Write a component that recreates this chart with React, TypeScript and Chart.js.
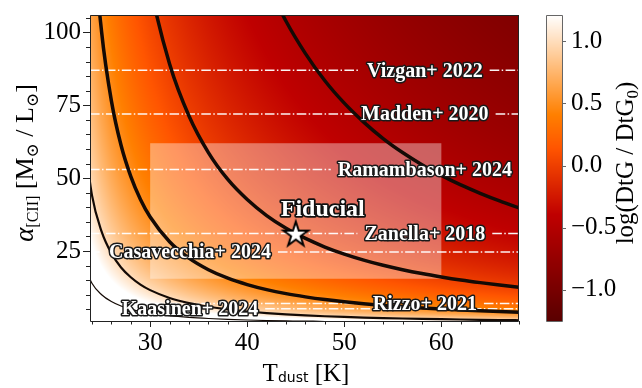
import { useEffect, useRef } from 'react';
import { Chart, registerables } from 'chart.js';

Chart.register(...registerables);

// ---------------------------------------------------------------- data
// Dust temperature grid (K)
const tdust = [23, 24, 25, 26, 27, 28, 29, 30, 32, 34, 36, 38, 40, 42, 44, 46, 48, 50, 52, 54, 56, 58, 60, 62, 64, 66, 68];
// log(DtG / DtG0) at the fiducial alpha_[CII], one value per dust temperature
const logDtgAtFiducialAlpha = [
  1.352, 1.154, 1.009, 0.893, 0.796, 0.713, 0.639, 0.573, 0.459, 0.362, 0.278, 0.204, 0.139, 0.079,
  0.025, -0.024, -0.070, -0.112, -0.151, -0.188, -0.222, -0.254, -0.284, -0.313, -0.340, -0.366, -0.391,
];
const fiducialTdust = 45;
const fiducialAlpha = 31;
const contourLevels = [-0.5, 0, 0.5, 1.0, 1.5];

// literature conversion factors (Msun / Lsun)
const refNames = ['Vizgan+ 2022', 'Madden+ 2020', 'Ramambason+ 2024', 'Zanella+ 2018', 'Casavecchia+ 2024', 'Rizzo+ 2021', 'Kaasinen+ 2024'];
const refAlpha = [87, 72, 53, 31, 24.7, 7.0, 5.2];

// explored parameter box
const boxTdust = [30, 60];
const boxAlpha = [15.5, 62];

const xTicks = [30, 40, 50, 60];
const yTicks = [25, 50, 75, 100];
const cbTicks = [-1.0, -0.5, 0.0, 0.5, 1.0];

// ---------------------------------------------------------------- layout / style
const W = 642;
const H = 388;
const AREA_TOP = 4;
const AREA_LEFT = 90;
const AREA_RIGHT = 519;
const AREA_BOTTOM = 321;
const X_RANGE = [23.8, 68];
const Y_RANGE = [1, 106];
const CB_RANGE = [-1.25, 1.21];
const CMAP_LO = -2.0;
const CMAP_HI = 1.21;
const CB_X0 = 546;
const CB_X1 = 562;
const LABEL_T = [58.3, 58.3, 58.3, 58.3, 34.1, 58.3, 34.1];
const CONTOUR_WIDTHS = [3.5, 3.5, 3.5, 2.2, 1.2];
const SERIF = "'Liberation Serif', 'Times New Roman', 'DejaVu Serif', serif";
const SANS = "'DejaVu Sans', sans-serif";

function heatRGB(v: number): [number, number, number] {
  let s = (v - CMAP_LO) / (CMAP_HI - CMAP_LO);
  s = Math.min(1, Math.max(0, s));
  const r = Math.min(1, 1.5 * s);
  const g = Math.min(1, Math.max(0, 2 * s - 1));
  const b = Math.min(1, Math.max(0, 4 * s - 3));
  return [r * 255, g * 255, b * 255];
}

function logDtgAt(t: number): number {
  const n = tdust.length;
  if (t <= tdust[0]) return logDtgAtFiducialAlpha[0];
  if (t >= tdust[n - 1]) return logDtgAtFiducialAlpha[n - 1];
  let i = 0;
  while (tdust[i + 1] < t) i++;
  const f = (t - tdust[i]) / (tdust[i + 1] - tdust[i]);
  return logDtgAtFiducialAlpha[i] * (1 - f) + logDtgAtFiducialAlpha[i + 1] * f;
}

function makeStar(): HTMLCanvasElement {
  const c = document.createElement('canvas');
  c.width = 34;
  c.height = 34;
  const g = c.getContext('2d')!;
  const R = 13;
  const r = R * 0.381966;
  g.beginPath();
  for (let k = 0; k < 10; k++) {
    const rad = k % 2 === 0 ? R : r;
    const ang = -Math.PI / 2 + (k * Math.PI) / 5;
    const px = 17 + rad * Math.cos(ang);
    const py = 18 + rad * Math.sin(ang);
    if (k === 0) g.moveTo(px, py);
    else g.lineTo(px, py);
  }
  g.closePath();
  g.fillStyle = '#ffffff';
  g.fill();
  g.lineWidth = 2;
  g.lineJoin = 'miter';
  g.strokeStyle = '#000000';
  g.stroke();
  return c;
}

type Part = { text: string; font: string; dy: number };

function drawParts(ctx: CanvasRenderingContext2D, parts: Part[], x: number, y: number, rotate: boolean) {
  ctx.save();
  ctx.translate(x, y);
  if (rotate) ctx.rotate(-Math.PI / 2);
  const widths = parts.map((p) => {
    ctx.font = p.font;
    return ctx.measureText(p.text).width;
  });
  const total = widths.reduce((a, b) => a + b, 0);
  let cx = -total / 2;
  ctx.textAlign = 'left';
  ctx.textBaseline = 'alphabetic';
  ctx.fillStyle = '#000';
  parts.forEach((p, i) => {
    ctx.font = p.font;
    ctx.fillText(p.text, cx, p.dy);
    cx += widths[i];
  });
  ctx.restore();
}

const REF_FONT = `bold 20px ${SERIF}`;

const heatmapPlugin = {
  id: 'heatmap',
  beforeDatasetsDraw(chart: any) {
    const { ctx, chartArea: a, scales } = chart;
    const xs = scales.x;
    const ys = scales.y;
    const w = Math.round(a.right - a.left);
    const h = Math.round(a.bottom - a.top);
    const off = document.createElement('canvas');
    off.width = w;
    off.height = h;
    const octx = off.getContext('2d')!;
    const img = octx.createImageData(w, h);
    const col = new Float64Array(w);
    for (let i = 0; i < w; i++) col[i] = logDtgAt(xs.getValueForPixel(a.left + i + 0.5));
    for (let j = 0; j < h; j++) {
      const la = Math.log10(ys.getValueForPixel(a.top + j + 0.5) / fiducialAlpha);
      for (let i = 0; i < w; i++) {
        const [r, g, b] = heatRGB(col[i] - la);
        const k = (j * w + i) * 4;
        img.data[k] = r;
        img.data[k + 1] = g;
        img.data[k + 2] = b;
        img.data[k + 3] = 255;
      }
    }
    octx.putImageData(img, 0, 0);
    ctx.save();
    ctx.drawImage(off, a.left, a.top);

    // translucent box over the explored range
    const bx0 = xs.getPixelForValue(boxTdust[0]);
    const bx1 = xs.getPixelForValue(boxTdust[1]);
    const by0 = ys.getPixelForValue(boxAlpha[1]);
    const by1 = ys.getPixelForValue(boxAlpha[0]);
    ctx.fillStyle = 'rgba(255,255,255,0.38)';
    ctx.fillRect(bx0, by0, bx1 - bx0, by1 - by0);

    // literature alpha_[CII] values, broken around their labels
    ctx.font = REF_FONT;
    ctx.strokeStyle = 'rgba(255,255,255,0.95)';
    ctx.lineWidth = 1.5;
    ctx.setLineDash([9.6, 2.4, 1.5, 2.4]);
    refAlpha.forEach((al, i) => {
      const py = ys.getPixelForValue(al);
      const cx = xs.getPixelForValue(LABEL_T[i]);
      const half = ctx.measureText(refNames[i]).width / 2 + 7;
      ctx.beginPath();
      ctx.moveTo(a.left, py);
      ctx.lineTo(cx - half, py);
      ctx.stroke();
      ctx.beginPath();
      ctx.moveTo(cx + half, py);
      ctx.lineTo(a.right, py);
      ctx.stroke();
    });
    ctx.restore();
  },
};

const annotationPlugin = {
  id: 'annotations',
  afterDatasetsDraw(chart: any) {
    const { ctx, chartArea: a, scales } = chart;
    const xs = scales.x;
    const ys = scales.y;
    const cb = scales.cb;
    ctx.save();

    // reference labels
    ctx.font = REF_FONT;
    ctx.textAlign = 'center';
    ctx.textBaseline = 'middle';
    ctx.lineJoin = 'round';
    refAlpha.forEach((al, i) => {
      const py = ys.getPixelForValue(al) + 1;
      const cx = xs.getPixelForValue(LABEL_T[i]);
      ctx.lineWidth = 3;
      ctx.strokeStyle = '#1a1a1a';
      ctx.strokeText(refNames[i], cx, py);
      ctx.fillStyle = '#ffffff';
      ctx.fillText(refNames[i], cx, py);
    });

    // fiducial label
    const fx = xs.getPixelForValue(fiducialTdust) + 27;
    const fy = ys.getPixelForValue(fiducialAlpha) - 18;
    ctx.font = `bold 24px ${SERIF}`;
    ctx.textBaseline = 'alphabetic';
    ctx.lineWidth = 3.5;
    ctx.strokeStyle = '#111';
    ctx.strokeText('Fiducial', fx, fy);
    ctx.fillStyle = '#fff';
    ctx.fillText('Fiducial', fx, fy);

    // frame
    ctx.lineWidth = 1;
    ctx.strokeStyle = '#222';
    ctx.strokeRect(a.left + 0.5, a.top + 0.5, a.right - a.left - 1, a.bottom - a.top);

    // tick marks (major + minor)
    ctx.beginPath();
    for (let t = 24; t <= X_RANGE[1]; t += 2) {
      const px = Math.round(xs.getPixelForValue(t)) + 0.5;
      const len = xTicks.includes(t) ? 6 : 3.5;
      ctx.moveTo(px, a.bottom);
      ctx.lineTo(px, a.bottom + len);
    }
    for (let v = 5; v <= Y_RANGE[1]; v += 5) {
      const py = Math.round(ys.getPixelForValue(v)) + 0.5;
      const len = yTicks.includes(v) ? 7 : 4;
      ctx.moveTo(a.left, py);
      ctx.lineTo(a.left - len, py);
    }
    ctx.stroke();

    // colour bar
    const cTop = cb.getPixelForValue(CB_RANGE[1]);
    const cBot = cb.getPixelForValue(CB_RANGE[0]);
    for (let py = Math.floor(cTop); py < cBot; py++) {
      const [r, g, b] = heatRGB(cb.getValueForPixel(py + 0.5));
      ctx.fillStyle = `rgb(${r},${g},${b})`;
      ctx.fillRect(CB_X0, py, CB_X1 - CB_X0, 1);
    }
    ctx.strokeStyle = '#666';
    ctx.strokeRect(CB_X0 + 0.5, cTop + 0.5, CB_X1 - CB_X0, cBot - cTop);
    ctx.beginPath();
    cbTicks.forEach((v) => {
      const py = Math.round(cb.getPixelForValue(v)) + 0.5;
      ctx.moveTo(CB_X1 + 0.5, py);
      ctx.lineTo(CB_X1 + 4, py);
    });
    ctx.stroke();

    // axis titles
    drawParts(
      ctx,
      [
        { text: 'T', font: `25px ${SERIF}`, dy: 0 },
        { text: 'dust', font: `14px ${SANS}`, dy: 1 },
        { text: ' [K]', font: `25px ${SERIF}`, dy: 0 },
      ],
      306,
      381,
      false,
    );
    drawParts(
      ctx,
      [
        { text: 'α', font: `italic 27px ${SERIF}`, dy: 0 },
        { text: '[CII]', font: `16px ${SERIF}`, dy: 5 },
        { text: ' [M', font: `26px ${SERIF}`, dy: 0 },
        { text: '⊙', font: `17px ${SERIF}`, dy: 5 },
        { text: ' / L', font: `26px ${SERIF}`, dy: 0 },
        { text: '⊙', font: `17px ${SERIF}`, dy: 5 },
        { text: ']', font: `26px ${SERIF}`, dy: 0 },
      ],
      33,
      163,
      true,
    );
    drawParts(
      ctx,
      [
        { text: 'log(DtG / DtG', font: `25px ${SERIF}`, dy: 0 },
        { text: '0', font: `17px ${SERIF}`, dy: 5 },
        { text: ')', font: `25px ${SERIF}`, dy: 0 },
      ],
      633,
      163,
      true,
    );
    ctx.restore();
  },
};

// keep tick-label overhang from shrinking the plotting area
function pinPadding(s: any) {
  s.paddingTop = 0;
  s.paddingBottom = 0;
  s.paddingLeft = 0;
  s.paddingRight = 0;
}

export default function App() {
  const ref = useRef<HTMLCanvasElement | null>(null);

  useEffect(() => {
    document.body.style.margin = '0';
    const canvas = ref.current!;
    const star = makeStar();
    const contours = contourLevels.map((level) =>
      tdust.map((t, i) => ({ x: t, y: fiducialAlpha * Math.pow(10, logDtgAtFiducialAlpha[i] - level) })),
    );

    const tickFont = { family: SERIF, size: 25 };
    const chart = new Chart(canvas, {
      type: 'line',
      data: {
        datasets: [
          {
            type: 'scatter',
            data: [{ x: fiducialTdust, y: fiducialAlpha }],
            pointStyle: star as any,
            pointRadius: 14,
            order: 0,
          } as any,
          ...contours.map((pts, k) => ({
            type: 'line',
            data: pts,
            borderColor: '#140a05',
            borderWidth: CONTOUR_WIDTHS[k],
            pointRadius: 0,
            cubicInterpolationMode: 'monotone',
            fill: false,
            order: 1,
          })),
        ] as any,
      },
      options: {
        responsive: false,
        animation: false,
        events: [],
        layout: { padding: { top: AREA_TOP, left: 0, right: 0, bottom: 0 } },
        plugins: { legend: { display: false }, tooltip: { enabled: false } },
        scales: {
          x: {
            type: 'linear',
            min: X_RANGE[0],
            max: X_RANGE[1],
            grid: { display: false, drawTicks: false },
            border: { display: false },
            ticks: {
              font: tickFont,
              color: '#000',
              padding: 7,
              autoSkip: false,
              maxRotation: 0,
              callback: (v: any) => String(v),
            },
            afterBuildTicks: (s: any) => {
              s.ticks = xTicks.map((v) => ({ value: v }));
            },
            afterFit: (s: any) => {
              s.height = H - AREA_BOTTOM;
              pinPadding(s);
            },
          },
          y: {
            type: 'linear',
            min: Y_RANGE[0],
            max: Y_RANGE[1],
            grid: { display: false, drawTicks: false },
            border: { display: false },
            ticks: {
              font: tickFont,
              color: '#000',
              padding: 9,
              autoSkip: false,
              callback: (v: any) => String(v),
            },
            afterBuildTicks: (s: any) => {
              s.ticks = yTicks.map((v) => ({ value: v }));
            },
            afterFit: (s: any) => {
              s.width = AREA_LEFT;
              pinPadding(s);
            },
          },
          cb: {
            type: 'linear',
            position: 'right',
            min: CB_RANGE[0],
            max: CB_RANGE[1],
            grid: { display: false, drawTicks: false },
            border: { display: false },
            ticks: {
              font: tickFont,
              color: '#000',
              padding: 52,
              autoSkip: false,
              callback: (v: any) => Number(v).toFixed(1).replace('-', '\u2212'),
            },
            afterBuildTicks: (s: any) => {
              s.ticks = cbTicks.map((v) => ({ value: v }));
            },
            afterFit: (s: any) => {
              s.width = W - AREA_RIGHT;
              pinPadding(s);
            },
          },
        },
      } as any,
      plugins: [heatmapPlugin, annotationPlugin],
    });
    return () => chart.destroy();
  }, []);

  return <canvas ref={ref} width={W} height={H} style={{ display: 'block' }} />;
}
